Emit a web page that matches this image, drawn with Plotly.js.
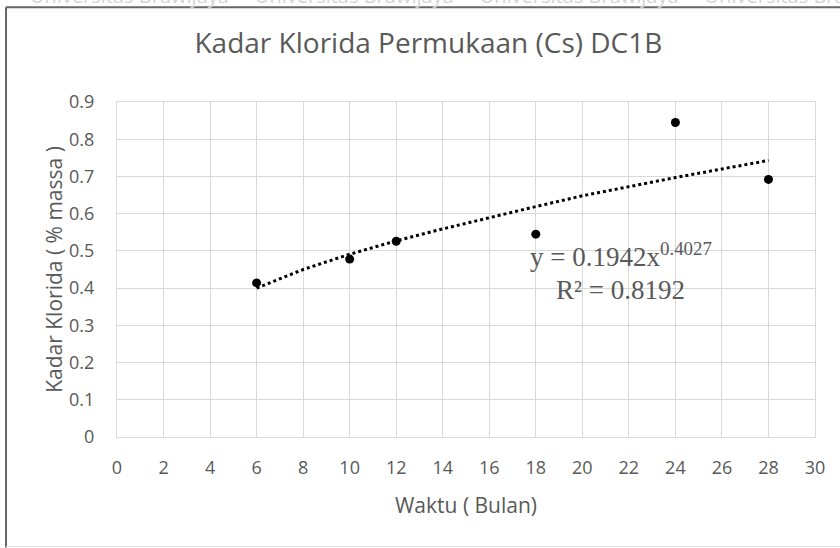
<!DOCTYPE html>
<html>
<head>
<meta charset="utf-8">
<script src="https://cdn.plot.ly/plotly-3.0.1.min.js"></script>
<style>
html,body{margin:0;padding:0;background:#fff;}
#chart{width:840px;height:548px;}
</style>
</head>
<body>
<div id="chart"></div>
<script>
// Observed data
const months = [6, 10, 12, 18, 24, 28];
const chloride = [0.414, 0.478, 0.526, 0.545, 0.845, 0.692];

// Power trendline (as drawn): y = 0.1942x^0.4027
const trendX = [6, 8, 10, 12, 14, 16, 18, 20, 22, 24, 26, 28];
const trendY = [0.400, 0.450, 0.491, 0.527, 0.559, 0.590, 0.619, 0.648, 0.673, 0.697, 0.720, 0.743];

const xTicks = [0, 2, 4, 6, 8, 10, 12, 14, 16, 18, 20, 22, 24, 26, 28, 30];
const yTicks = [0, 0.1, 0.2, 0.3, 0.4, 0.5, 0.6, 0.7, 0.8, 0.9];
const yTickText = ['0', '0.1', '0.2', '0.3', '0.4', '0.5', '0.6', '0.7', '0.8', '0.9'];

const titleText = 'Kadar Klorida Permukaan (Cs) DC1B';
const xTitle = 'Waktu ( Bulan)';
const yTitle = 'Kadar Klorida ( % massa )';
const eqText = 'y = 0.1942x<sup>0.4027</sup>';
const r2Text = 'R² = 0.8192';

const gray = '#595959';
const tickFont = {family: 'Open Sans, sans-serif', size: 18, color: gray};

const traces = [
  {
    x: trendX, y: trendY, type: 'scatter', mode: 'lines',
    line: {color: '#000', width: 3, dash: 'dot'},
    hoverinfo: 'skip', showlegend: false
  },
  {
    x: months, y: chloride, type: 'scatter', mode: 'markers',
    marker: {color: '#000', size: 9},
    showlegend: false
  }
];

const layout = {
  width: 840, height: 548,
  margin: {l: 117, r: 25, t: 102, b: 111},
  paper_bgcolor: '#fff', plot_bgcolor: '#fff',
  showlegend: false,
  title: {
    text: titleText,
    font: {family: 'Open Sans, sans-serif', size: 28, color: gray},
    x: 0.51, xanchor: 'center', y: 0.922, yanchor: 'middle'
  },
  xaxis: {
    range: [0, 30], tickvals: xTicks, ticktext: xTicks.map(String),
    showgrid: true, gridcolor: '#d9d9d9', gridwidth: 1,
    zeroline: false, showline: true, linecolor: '#d9d9d9', mirror: true,
    ticks: '', tickfont: tickFont, ticklabelstandoff: 14,
    title: {text: xTitle, font: {family: 'Open Sans, sans-serif', size: 21, color: gray}, standoff: 20},
    fixedrange: true
  },
  yaxis: {
    range: [0, 0.9], tickvals: yTicks, ticktext: yTickText,
    showgrid: true, gridcolor: '#d9d9d9', gridwidth: 1,
    zeroline: false, showline: true, linecolor: '#d9d9d9', mirror: true,
    ticks: '', tickfont: tickFont, ticklabelstandoff: 18,
    title: {text: yTitle, font: {family: 'Open Sans, sans-serif', size: 21, color: gray}, standoff: 0},
    fixedrange: true
  },
  annotations: [
    {
      text: eqText, xref: 'x', yref: 'y', x: 21.66, y: 0.489,
      showarrow: false, xanchor: 'center', yanchor: 'middle',
      font: {family: 'Liberation Serif, serif', size: 27, color: gray}
    },
    {
      text: r2Text, xref: 'x', yref: 'y', x: 21.66, y: 0.396,
      showarrow: false, xanchor: 'center', yanchor: 'middle',
      font: {family: 'Liberation Serif, serif', size: 27, color: gray}
    },
    {
      text: 'Universitas Brawijaya     Universitas Brawijaya     Universitas Brawijaya     Universitas Brawijaya',
      xref: 'paper', yref: 'paper', x: 0.5, y: 1.318, xanchor: 'center', yanchor: 'middle',
      showarrow: false,
      font: {family: 'Open Sans, sans-serif', size: 20, color: '#d4d4d4'}
    }
  ],
  shapes: [
    {type: 'line', xref: 'paper', yref: 'paper', x0: -0.159, x1: -0.159, y0: -0.33, y1: 1.283,
     line: {color: '#666', width: 2}},
    {type: 'line', xref: 'paper', yref: 'paper', x0: -0.159, x1: 1.1, y0: 1.283, y1: 1.283,
     line: {color: '#666', width: 2}},
    {type: 'line', xref: 'paper', yref: 'paper', x0: -0.159, x1: 1.1, y0: -0.327, y1: -0.327,
     line: {color: '#e0e0e0', width: 1}}
  ]
};

Plotly.newPlot('chart', traces, layout, {displayModeBar: false, staticPlot: true});
</script>
</body>
</html>
